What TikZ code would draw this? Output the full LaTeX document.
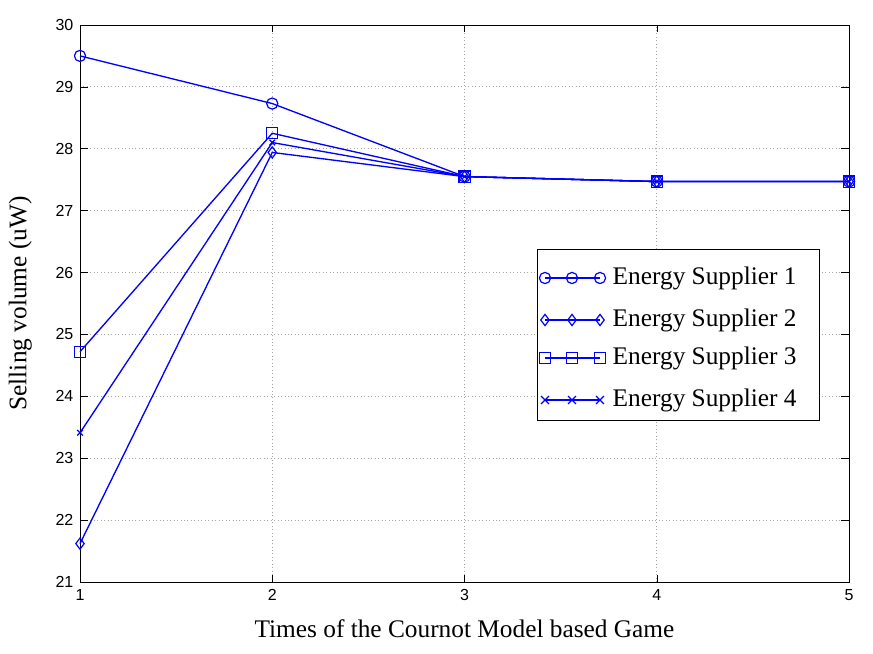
\documentclass[tikz,border=0pt]{standalone}
\usepackage{fontspec}
\setmainfont{Liberation Serif}
\newfontfamily\tickfont{Liberation Sans}
\usetikzlibrary{plotmarks}

\definecolor{lineblue}{RGB}{0,0,255}
\tikzset{
    series/.style={lineblue, line width=1pt, mark size=4.2pt, mark options={solid, fill=white, line width=0.9pt}},
    gridline/.style={gray!70, dotted, line width=0.6pt},
    ticklabel/.style={font=\tickfont\fontsize{12}{14}\selectfont},
    axislabel/.style={font=\fontsize{19}{22}\selectfont}
}

\begin{document}
\begin{tikzpicture}[x=0.75pt, y=0.75pt]
        \useasboundingbox[fill=white] (0,0) rectangle (873,653);

        \begin{scope}[shift={(60pt,53.25pt)}, x=144.19pt, y=46.42pt]
        % grid
        \foreach \x in {1,2,3}
        {
            \draw[gridline] (\x, 0) -- (\x, 9);
        }
        \foreach \y in {1,...,8}
        {
            \draw[gridline] (0, \y) -- (4, \y);
        }

        % ticks and labels
        \foreach \x in {0,...,4}
        {
            \draw (\x, 0) -- (\x, 0.11);
            \draw (\x, 9) -- (\x, 8.89);
            \pgfmathtruncatemacro{\lab}{\x+1}
            \node[ticklabel, below] (xt\lab) at (\x, -0.05) {\lab};
        }
        \foreach \y in {0,...,9}
        {
            \draw (0, \y) -- (0.04, \y);
            \draw (4, \y) -- (3.96, \y);
            \pgfmathtruncatemacro{\lab}{\y+21}
            \node[ticklabel, left] (yt\lab) at (-0.01, \y) {\lab};
        }

        % border
        \draw (0, 0) rectangle (4, 9);

        % data
        \draw[series] plot[mark=o] coordinates {(0,8.5) (1,7.73) (2,6.55) (3,6.47) (4,6.47)};
        \draw[series] plot[mark=diamond] coordinates {(0,0.62) (1,6.94) (2,6.55) (3,6.47) (4,6.47)};
        \draw[series] plot[mark=square] coordinates {(0,3.72) (1,7.25) (2,6.55) (3,6.47) (4,6.47)};
        \draw[series, mark size=3pt] plot[mark=x] coordinates {(0,2.41) (1,7.1) (2,6.55) (3,6.47) (4,6.47)};

        % axis labels
        \node[axislabel] (xlabel) at (2, -0.75) {Times of the Cournot Model based Game};
        \node[axislabel, rotate=90] (ylabel) at (-0.31, 4.5) {Selling volume (uW)};
        \end{scope}

        % legend
        \node[draw, fill=white, minimum width=282*0.75pt, minimum height=171*0.75pt] (legend) at (678,318.5) {};
        \foreach \i/\m/\yy in {1/o/375,2/diamond/333,3/square/295,4/x/253}
        {
            \draw[series] plot[mark=\m] coordinates {(545,\yy) (572,\yy) (600,\yy)};
            \node[axislabel, anchor=west] (leg\i) at (608,\yy) {Energy Supplier \i};
        }
\end{tikzpicture}
\end{document}
